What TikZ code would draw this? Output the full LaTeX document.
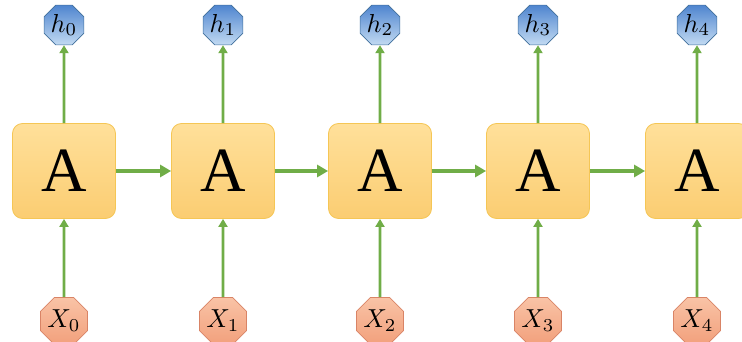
\documentclass[tikz,border=0pt]{standalone}
\usepackage{graphicx}
\usepackage{fontspec}
\newfontfamily\cellfont{Liberation Serif}
\usetikzlibrary{shapes.geometric,arrows.meta}
\definecolor{boxtop}{HTML}{FFE09A}
\definecolor{boxbot}{HTML}{FBCD72}
\definecolor{boxline}{HTML}{F5C655}
\definecolor{htop}{HTML}{4F85CF}
\definecolor{hbot}{HTML}{C2DAF2}
\definecolor{hline}{HTML}{41709C}
\definecolor{xtop}{HTML}{F9C3A6}
\definecolor{xbot}{HTML}{F2A07C}
\definecolor{xline}{HTML}{D98466}
\definecolor{arr}{HTML}{70AD47}
\newcommand{\biglbl}[1]{\scalebox{2.6}{$#1$}}
\begin{document}
\begin{tikzpicture}[x=1pt,y=-1pt,
  cell/.style={rectangle,rounded corners=10pt,minimum width=103pt,minimum height=95pt,
    top color=boxtop,bottom color=boxbot,draw=boxline,line width=0.8pt,inner sep=0pt,
    font=\cellfont\fontsize{63}{63}\selectfont},
  hnode/.style={regular polygon,regular polygon sides=8,minimum size=43pt,inner sep=0pt,
    top color=htop,bottom color=hbot,draw=hline,line width=0.7pt},
  xnode/.style={regular polygon,regular polygon sides=8,minimum size=43pt,inner sep=0pt,
    top color=xtop,bottom color=xbot,draw=xline,line width=0.7pt},
  varr/.style={draw=arr,line width=2.6pt,-{Triangle[length=8pt,width=9pt]}},
  harr/.style={draw=arr,line width=3.4pt,-{Triangle[length=11pt,width=12pt]}}
]
\useasboundingbox (0,0) rectangle (742,342);
\clip (0,0) rectangle (742,342);
\foreach \i/\cx in {0/64,1/223,2/380,3/538,4/697}{
  \node[cell] (A\i) at (\cx,171) {A};
  \node[hnode] (h\i) at (\cx,25) {\biglbl{h_\i}};
  \node[xnode] (x\i) at (\cx,321) {\biglbl{X_\i}};
  \draw[varr] (A\i.north) -- (h\i.south);
  \draw[varr] (x\i.north) -- (A\i.south);
}
\foreach \i/\j in {0/1,1/2,2/3,3/4}{
  \draw[harr] (A\i.east) -- (A\j.west);
}
\end{tikzpicture}
\end{document}
